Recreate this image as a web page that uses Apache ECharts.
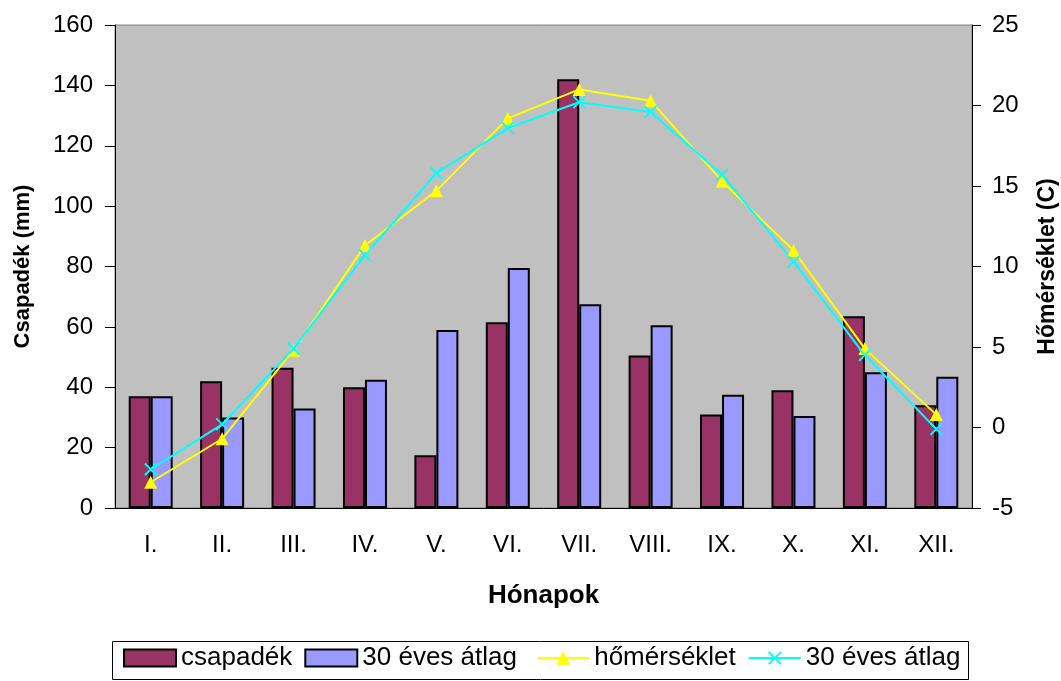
<!DOCTYPE html>
<html>
<head>
<meta charset="utf-8">
<script src="https://cdn.jsdelivr.net/npm/echarts@6/dist/echarts.min.js"></script>
<style>
  html, body { margin: 0; padding: 0; background: #fff; }
  #main { width: 1061px; height: 681px; }
</style>
</head>
<body>
<div id="main"></div>
<script>
// honapok
var honapok = ['I.', 'II.', 'III.', 'IV.', 'V.', 'VI.', 'VII.', 'VIII.', 'IX.', 'X.', 'XI.', 'XII.'];
// csapadek (mm)
var csapadek = [37, 42, 46.5, 40, 17.5, 61.5, 142, 50.5, 31, 39, 63.5, 34];
var csapadekAtlag = [37, 30, 33, 42.5, 59, 79.5, 67.5, 60.5, 37.5, 30.5, 45, 43.5];
// homerseklet (C)
var homerseklet = [-3.4, -0.7, 4.8, 11.3, 14.7, 19.2, 21.0, 20.3, 15.3, 11.0, 4.9, 0.8];
var homersekletAtlag = [-2.6, 0.2, 4.9, 10.7, 15.8, 18.6, 20.2, 19.6, 15.7, 10.3, 4.5, -0.1];

var font = 'Liberation Sans, Arial, sans-serif';
var xJel = 'path://M0,1L1,0L5,4L9,0L10,1L6,5L10,9L9,10L5,6L1,10L0,9L4,5Z';

var myChart = echarts.init(document.getElementById('main'));
myChart.setOption({
    animation: false,
    textStyle: { fontFamily: font, color: '#000' },
    grid: {
        left: 115, right: 89, top: 25, bottom: 173,
        outerBoundsMode: 'none',
        show: true, backgroundColor: '#C0C0C0', borderColor: '#808080', borderWidth: 1
    },
    // jelmagyarazat kerete
    graphic: [{
        type: 'rect',
        shape: { x: 112.5, y: 641.5, width: 856, height: 38 },
        style: { fill: 'none', stroke: '#000', lineWidth: 1 }
    }],
    legend: {
        left: 123, top: 645,
        padding: 0,
        itemWidth: 52, itemHeight: 17, itemGap: 12,
        textStyle: { fontSize: 26, fontFamily: font, color: '#000' },
        data: [
            { name: 'csapadék', icon: 'rect' },
            { name: '30 éves átlag ', icon: 'rect' },
            { name: 'hőmérséklet' },
            { name: '30 éves átlag' }
        ]
    },
    xAxis: {
        type: 'category',
        data: honapok,
        name: 'Hónapok',
        nameLocation: 'middle',
        nameGap: 75,
        nameTextStyle: { fontSize: 26, fontWeight: 'bold', color: '#000' },
        axisLine: { lineStyle: { color: '#000', width: 1 } },
        axisTick: { length: 9, lineStyle: { color: '#000' } },
        axisLabel: { fontSize: 24, color: '#000', margin: 25 }
    },
    yAxis: [
        {
            type: 'value', min: 0, max: 160, interval: 20,
            name: 'Csapadék (mm)',
            nameLocation: 'middle', nameGap: 81,
            nameTextStyle: { fontSize: 22, fontWeight: 'bold', color: '#000' },
            axisLine: { show: true, lineStyle: { color: '#000' } },
            axisTick: { show: true, length: 10, lineStyle: { color: '#000' } },
            axisLabel: { fontSize: 24, color: '#000', margin: 22 },
            splitLine: { show: false }
        },
        {
            type: 'value', min: -5, max: 25, interval: 5,
            name: 'Hőmérséklet (C)',
            nameLocation: 'middle', nameGap: 64,
            nameTextStyle: { fontSize: 23, fontWeight: 'bold', color: '#000' },
            axisLine: { show: true, lineStyle: { color: '#000' } },
            axisTick: { show: true, length: 9, lineStyle: { color: '#000' } },
            axisLabel: { fontSize: 24, color: '#000', margin: 20 },
            splitLine: { show: false }
        }
    ],
    series: [
        {
            name: 'csapadék', type: 'bar', data: csapadek,
            barWidth: 22, barGap: '0%',
            itemStyle: { color: '#993366', borderColor: '#000', borderWidth: 2 }
        },
        {
            name: '30 éves átlag ', type: 'bar', data: csapadekAtlag,
            barWidth: 22, barGap: '0%',
            itemStyle: { color: '#9999FF', borderColor: '#000', borderWidth: 2 }
        },
        {
            name: 'hőmérséklet', type: 'line', yAxisIndex: 1, data: homerseklet,
            symbol: 'triangle', symbolSize: 13,
            lineStyle: { color: '#FFFF00', width: 2 },
            itemStyle: { color: '#FFFF00' }
        },
        {
            name: '30 éves átlag', type: 'line', yAxisIndex: 1, data: homersekletAtlag,
            symbol: xJel, symbolSize: 13,
            lineStyle: { color: '#00FFFF', width: 2 },
            itemStyle: { color: '#00FFFF' }
        }
    ]
});
</script>
</body>
</html>
